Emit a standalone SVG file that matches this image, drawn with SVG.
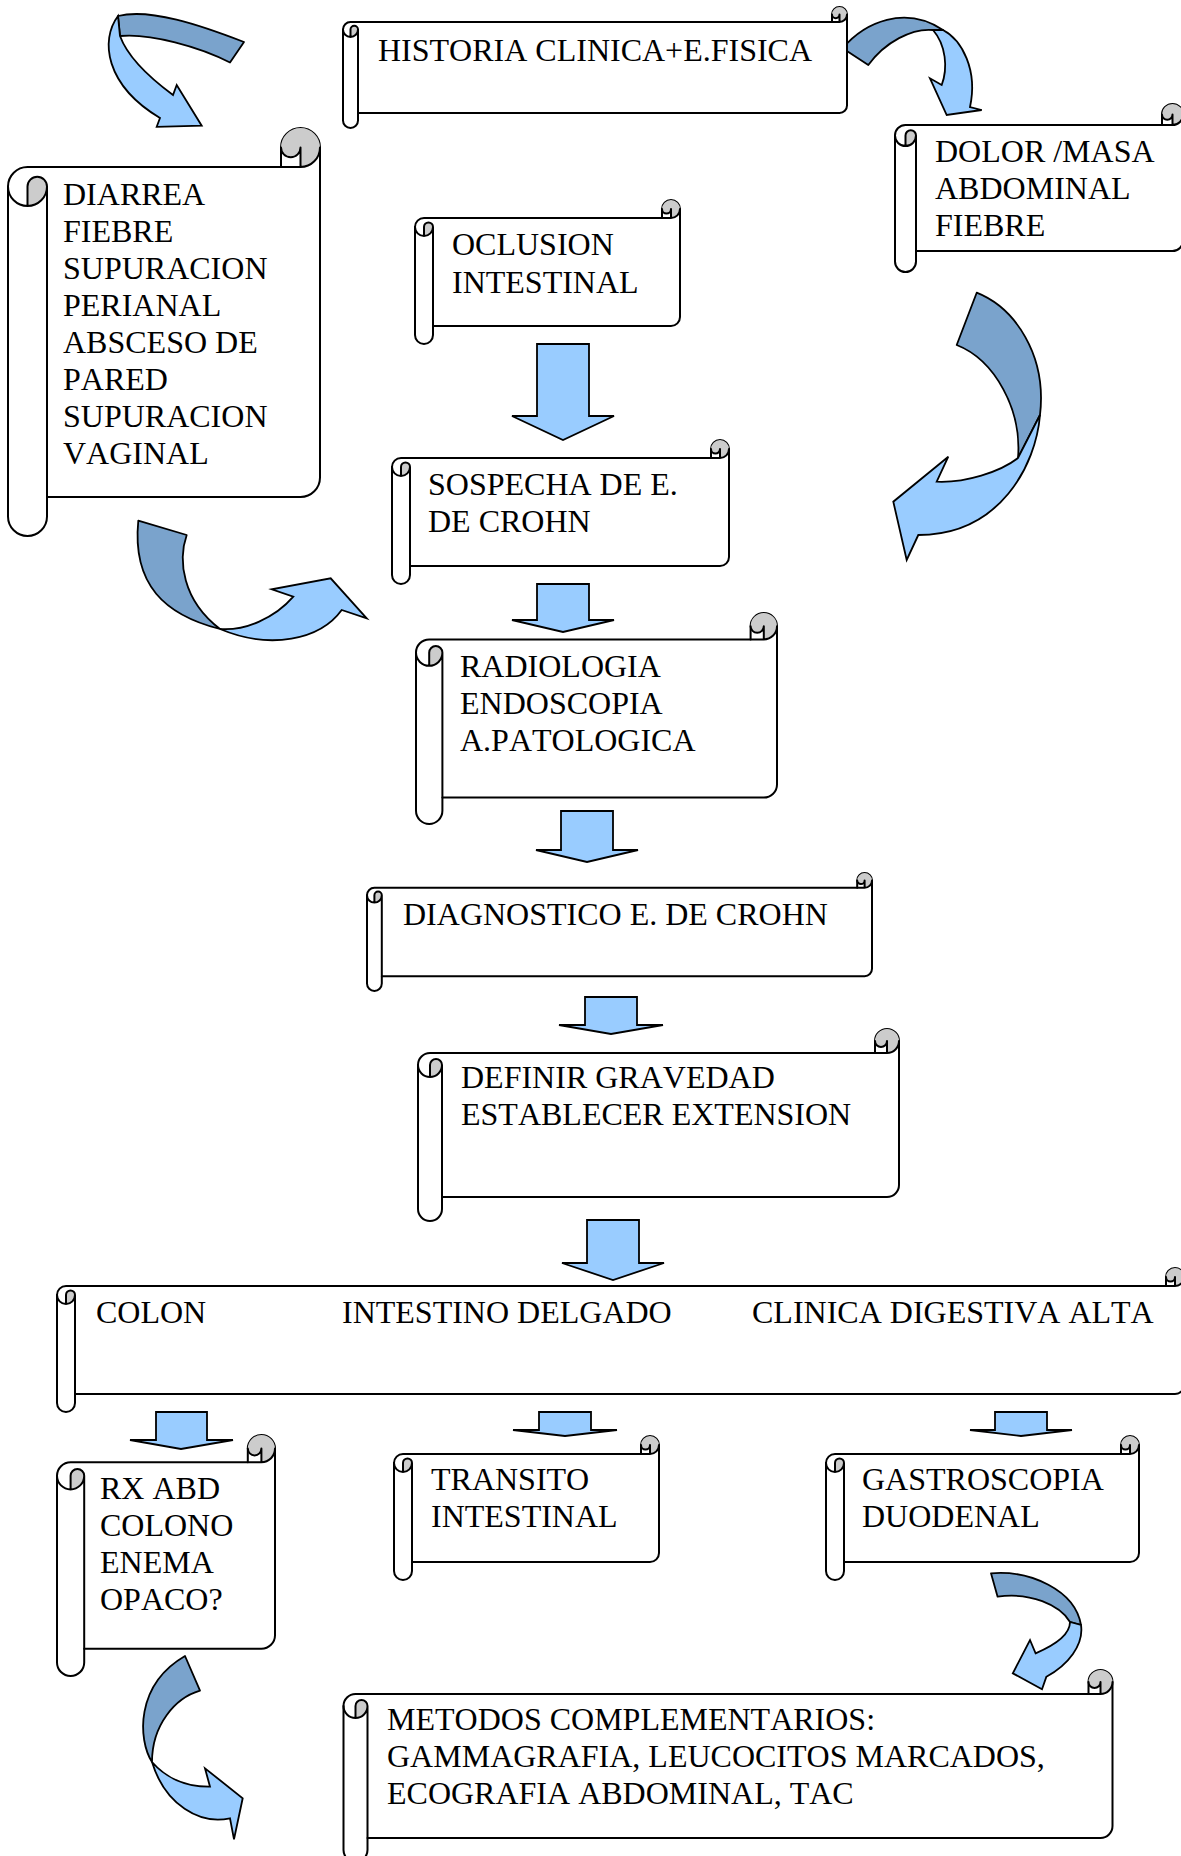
<svg xmlns="http://www.w3.org/2000/svg" width="1181" height="1856" viewBox="0 0 1181 1856">
  <style>
    .body { fill: #ffffff; stroke: #000000; stroke-width: 2; stroke-linejoin: round; }
    .curl { fill: #cccccc; stroke: none; }
    .det { fill: none; stroke: #000000; stroke-width: 2; stroke-linecap: round; stroke-linejoin: round; }
    .blk { fill: #99ccff; stroke: #000000; stroke-width: 1.8; stroke-linejoin: miter; }
    .back { fill: #7aa3cc; stroke: #000000; stroke-width: 1.8; stroke-linejoin: round; }
    .front { fill: #99ccff; stroke: #000000; stroke-width: 1.8; stroke-linejoin: miter; }
    text { font-family: "Liberation Serif", "Times New Roman", serif; font-size: 32px; fill: #000000; font-kerning: none; font-variant-ligatures: none; }
  </style>
  <defs>
    <!-- scroll 265 x 144 (roll 18) -->
    <g id="scroll-265x144">
      <path class="body" d="M0,27 A9 9 0 0 1 9,18 L247,18 L247,9 A9 9 0 0 1 265,9 L265,117 A9 9 0 0 1 256,126 L18,126 L18,135 A9 9 0 0 1 0,135 Z"/>
      <path class="curl" d="M9,36 A9 9 0 0 0 18,27 A4.5 4.5 0 0 0 9,27 Z M256,18 A9 9 0 1 0 247,9 A4.5 4.5 0 0 0 256,9 Z"/>
      <path class="det" d="M247,18 L256,18 A9 9 0 0 0 265,9 M256,18 L256,9 A4.5 4.5 0 0 1 247,9 M9,36 L9,27 A4.5 4.5 0 0 1 18,27 A9 9 0 0 1 0,27 M18,27 L18,126"/>
    </g>
  </defs>

  <!-- connectors: block arrows and curved ribbon arrows -->
  <g id="connectors">
    <polygon class="blk" points="537,344 589,344 589,416 614,416 563,440 512,416 537,416"/>
    <polygon class="blk" points="537,584 589,584 589,620 614,620 563,632 512,620 537,620"/>
    <polygon class="blk" points="561,811 613,811 613,850 638,850 587,862 536,850 561,850"/>
    <polygon class="blk" points="585,997 637,997 637,1025 663,1025 611,1034 559,1025 585,1025"/>
    <polygon class="blk" points="587,1220 639,1220 639,1263 664,1263 613,1280 562,1263 587,1263"/>
    <polygon class="blk" points="156,1412 207,1412 207,1440 233,1440 181,1449 130,1440 156,1440"/>
    <polygon class="blk" points="539,1412 591,1412 591,1430 617,1430 565,1436 513,1430 539,1430"/>
    <polygon class="blk" points="995,1412 1047,1412 1047,1430 1072,1430 1021,1436 970,1430 995,1430"/>

    <!-- curved: top left, into the symptom scroll -->
    <path class="back" d="M244,42 C200,25 150,8 118,16 L120,36 C150,33 200,47 230,62.5 Z"/>
    <path class="front" d="M118,16 C100,40 105,85 160,118 L156.7,126.8 L201.7,125.7 L176.7,85 L173,95 C150,78 128,58 120,36 Z"/>

    <!-- curved: history to pain/mass -->
    <path class="back" d="M842.7,48.3 C865,22 905,5 943,30 L933,30 C912,28 885,42 868.3,65 Z"/>
    <path class="front" d="M943,30 C962,40 978,70 970,107 L981.7,110 L946.7,115 L930,78.3 L941.7,85 C948,68 946,45 933,30 Z"/>

    <!-- curved: right side, down to suspicion -->
    <path class="back" d="M956.7,345 L976.7,292.7 C1015,308 1047,355 1040,415 L1018,458 C1022,410 995,360 956.7,345 Z"/>
    <path class="front" d="M1040,415 C1036,465 1000,535 918.3,535 L906.7,560 L893.3,501.7 L948.3,456.7 L936.7,481.7 C965,483 1000,472 1018,458 Z"/>

    <!-- curved: left side, up to suspicion -->
    <path class="back" d="M138.3,520.7 L186.7,535 C178,560 182,600 220,629 C165,615 132,585 138.3,520.7 Z"/>
    <path class="front" d="M220,629 C245,631 275,618 293.3,596.7 L271.7,589.3 L330.7,578.3 L366.7,618.3 L341.7,610 C320,640 270,650 220,629 Z"/>

    <!-- curved: gastroscopy to complementary methods -->
    <path class="back" d="M991,1573.3 C1030,1570 1075,1590 1081,1625 L1070,1622 C1060,1605 1030,1592 997.6,1596.7 Z"/>
    <path class="front" d="M1081,1625 C1084,1645 1068,1665 1046.4,1676.7 L1042,1689.3 L1012.8,1673.3 L1030,1640 L1035.6,1653.3 C1055,1645 1070,1635 1070,1622 Z"/>

    <!-- curved: below colon studies -->
    <path class="back" d="M185,1656 L200,1690.7 C175,1698 152,1725 152,1762 C138,1740 135,1685 185,1656 Z"/>
    <path class="front" d="M152,1762 C165,1777 185,1787 210,1786.7 L205,1768.3 L242.7,1798.3 L234,1839.3 L230,1818.3 C200,1825 165,1805 152,1762 Z"/>
  </g>

  <g id="n-historia">
    <g transform="translate(343,7)">
      <path class="body" d="M0,22.5 A7.5 7.5 0 0 1 7.5,15 L489,15 L489,7.5 A7.5 7.5 0 0 1 504,7.5 L504,98.5 A7.5 7.5 0 0 1 496.5,106 L15,106 L15,113.5 A7.5 7.5 0 0 1 0,113.5 Z"/>
      <path class="curl" d="M7.5,30 A7.5 7.5 0 0 0 15,22.5 A3.75 3.75 0 0 0 7.5,22.5 Z M496.5,15 A7.5 7.5 0 1 0 489,7.5 A3.75 3.75 0 0 0 496.5,7.5 Z"/>
      <path class="det" d="M489,15 L496.5,15 A7.5 7.5 0 0 0 504,7.5 M496.5,15 L496.5,7.5 A3.75 3.75 0 0 1 489,7.5 M7.5,30 L7.5,22.5 A3.75 3.75 0 0 1 15,22.5 A7.5 7.5 0 0 1 0,22.5 M15,22.5 L15,106"/>
    </g>
    <text x="378" y="61">HISTORIA CLINICA+E.FISICA</text>
  </g>

  <g id="n-sintomas">
    <g transform="translate(8,128)">
      <path class="body" d="M0,58.5 A19.5 19.5 0 0 1 19.5,39 L273,39 L273,19.5 A19.5 19.5 0 0 1 312,19.5 L312,349.5 A19.5 19.5 0 0 1 292.5,369 L39,369 L39,388.5 A19.5 19.5 0 0 1 0,388.5 Z"/>
      <path class="curl" d="M19.5,78 A19.5 19.5 0 0 0 39,58.5 A9.75 9.75 0 0 0 19.5,58.5 Z M292.5,39 A19.5 19.5 0 1 0 273,19.5 A9.75 9.75 0 0 0 292.5,19.5 Z"/>
      <path class="det" d="M273,39 L292.5,39 A19.5 19.5 0 0 0 312,19.5 M292.5,39 L292.5,19.5 A9.75 9.75 0 0 1 273,19.5 M19.5,78 L19.5,58.5 A9.75 9.75 0 0 1 39,58.5 A19.5 19.5 0 0 1 0,58.5 M39,58.5 L39,369"/>
    </g>
    <text x="63" y="205">DIARREA</text>
    <text x="63" y="242">FIEBRE</text>
    <text x="63" y="279">SUPURACION</text>
    <text x="63" y="316">PERIANAL</text>
    <text x="63" y="353">ABSCESO DE</text>
    <text x="63" y="390">PARED</text>
    <text x="63" y="427">SUPURACION</text>
    <text x="63" y="464">VAGINAL</text>
  </g>

  <g id="n-dolor">
    <g transform="translate(895,104)">
      <path class="body" d="M0,31.5 A10.5 10.5 0 0 1 10.5,21 L267,21 L267,10.5 A10.5 10.5 0 0 1 288,10.5 L288,136.5 A10.5 10.5 0 0 1 277.5,147 L21,147 L21,157.5 A10.5 10.5 0 0 1 0,157.5 Z"/>
      <path class="curl" d="M10.5,42 A10.5 10.5 0 0 0 21,31.5 A5.25 5.25 0 0 0 10.5,31.5 Z M277.5,21 A10.5 10.5 0 1 0 267,10.5 A5.25 5.25 0 0 0 277.5,10.5 Z"/>
      <path class="det" d="M267,21 L277.5,21 A10.5 10.5 0 0 0 288,10.5 M277.5,21 L277.5,10.5 A5.25 5.25 0 0 1 267,10.5 M10.5,42 L10.5,31.5 A5.25 5.25 0 0 1 21,31.5 A10.5 10.5 0 0 1 0,31.5 M21,31.5 L21,147"/>
    </g>
    <text x="935" y="162">DOLOR /MASA</text>
    <text x="935" y="199">ABDOMINAL</text>
    <text x="935" y="236">FIEBRE</text>
  </g>

  <g id="n-oclusion">
    <use href="#scroll-265x144" transform="translate(415,200)"/>
    <text x="452" y="255">OCLUSION</text>
    <text x="452" y="293">INTESTINAL</text>
  </g>

  <g id="n-sospecha">
    <g transform="translate(392,440)">
      <path class="body" d="M0,27 A9 9 0 0 1 9,18 L319,18 L319,9 A9 9 0 0 1 337,9 L337,117 A9 9 0 0 1 328,126 L18,126 L18,135 A9 9 0 0 1 0,135 Z"/>
      <path class="curl" d="M9,36 A9 9 0 0 0 18,27 A4.5 4.5 0 0 0 9,27 Z M328,18 A9 9 0 1 0 319,9 A4.5 4.5 0 0 0 328,9 Z"/>
      <path class="det" d="M319,18 L328,18 A9 9 0 0 0 337,9 M328,18 L328,9 A4.5 4.5 0 0 1 319,9 M9,36 L9,27 A4.5 4.5 0 0 1 18,27 A9 9 0 0 1 0,27 M18,27 L18,126"/>
    </g>
    <text x="428" y="495">SOSPECHA DE E.</text>
    <text x="428" y="532">DE CROHN</text>
  </g>

  <g id="n-radiologia">
    <g transform="translate(416,613)">
      <path class="body" d="M0,39.6 A13.2 13.2 0 0 1 13.2,26.4 L334.6,26.4 L334.6,13.2 A13.2 13.2 0 0 1 361,13.2 L361,171.4 A13.2 13.2 0 0 1 347.8,184.6 L26.4,184.6 L26.4,197.8 A13.2 13.2 0 0 1 0,197.8 Z"/>
      <path class="curl" d="M13.2,52.8 A13.2 13.2 0 0 0 26.4,39.6 A6.6 6.6 0 0 0 13.2,39.6 Z M347.8,26.4 A13.2 13.2 0 1 0 334.6,13.2 A6.6 6.6 0 0 0 347.8,13.2 Z"/>
      <path class="det" d="M334.6,26.4 L347.8,26.4 A13.2 13.2 0 0 0 361,13.2 M347.8,26.4 L347.8,13.2 A6.6 6.6 0 0 1 334.6,13.2 M13.2,52.8 L13.2,39.6 A6.6 6.6 0 0 1 26.4,39.6 A13.2 13.2 0 0 1 0,39.6 M26.4,39.6 L26.4,184.6"/>
    </g>
    <text x="460" y="677">RADIOLOGIA</text>
    <text x="460" y="714">ENDOSCOPIA</text>
    <text x="460" y="751">A.PATOLOGICA</text>
  </g>

  <g id="n-diagnostico">
    <g transform="translate(367,873)">
      <path class="body" d="M0,22.2 A7.4 7.4 0 0 1 7.4,14.8 L490.2,14.8 L490.2,7.4 A7.4 7.4 0 0 1 505,7.4 L505,95.8 A7.4 7.4 0 0 1 497.6,103.2 L14.8,103.2 L14.8,110.6 A7.4 7.4 0 0 1 0,110.6 Z"/>
      <path class="curl" d="M7.4,29.6 A7.4 7.4 0 0 0 14.8,22.2 A3.7 3.7 0 0 0 7.4,22.2 Z M497.6,14.8 A7.4 7.4 0 1 0 490.2,7.4 A3.7 3.7 0 0 0 497.6,7.4 Z"/>
      <path class="det" d="M490.2,14.8 L497.6,14.8 A7.4 7.4 0 0 0 505,7.4 M497.6,14.8 L497.6,7.4 A3.7 3.7 0 0 1 490.2,7.4 M7.4,29.6 L7.4,22.2 A3.7 3.7 0 0 1 14.8,22.2 A7.4 7.4 0 0 1 0,22.2 M14.8,22.2 L14.8,103.2"/>
    </g>
    <text x="403" y="925">DIAGNOSTICO E. DE CROHN</text>
  </g>

  <g id="n-definir">
    <g transform="translate(418,1029)">
      <path class="body" d="M0,36 A12 12 0 0 1 12,24 L457,24 L457,12 A12 12 0 0 1 481,12 L481,156 A12 12 0 0 1 469,168 L24,168 L24,180 A12 12 0 0 1 0,180 Z"/>
      <path class="curl" d="M12,48 A12 12 0 0 0 24,36 A6 6 0 0 0 12,36 Z M469,24 A12 12 0 1 0 457,12 A6 6 0 0 0 469,12 Z"/>
      <path class="det" d="M457,24 L469,24 A12 12 0 0 0 481,12 M469,24 L469,12 A6 6 0 0 1 457,12 M12,48 L12,36 A6 6 0 0 1 24,36 A12 12 0 0 1 0,36 M24,36 L24,168"/>
    </g>
    <text x="461" y="1088">DEFINIR GRAVEDAD</text>
    <text x="461" y="1125">ESTABLECER EXTENSION</text>
  </g>

  <g id="n-localizacion">
    <g transform="translate(57,1268)">
      <path class="body" d="M0,27 A9 9 0 0 1 9,18 L1109,18 L1109,9 A9 9 0 0 1 1127,9 L1127,117 A9 9 0 0 1 1118,126 L18,126 L18,135 A9 9 0 0 1 0,135 Z"/>
      <path class="curl" d="M9,36 A9 9 0 0 0 18,27 A4.5 4.5 0 0 0 9,27 Z M1118,18 A9 9 0 1 0 1109,9 A4.5 4.5 0 0 0 1118,9 Z"/>
      <path class="det" d="M1109,18 L1118,18 A9 9 0 0 0 1127,9 M1118,18 L1118,9 A4.5 4.5 0 0 1 1109,9 M9,36 L9,27 A4.5 4.5 0 0 1 18,27 A9 9 0 0 1 0,27 M18,27 L18,126"/>
    </g>
    <text x="96" y="1323">COLON</text>
    <text x="342" y="1323">INTESTINO DELGADO</text>
    <text x="752" y="1323">CLINICA DIGESTIVA ALTA</text>
  </g>

  <g id="n-rx">
    <g transform="translate(57,1435)">
      <path class="body" d="M0,40.8 A13.6 13.6 0 0 1 13.6,27.2 L190.8,27.2 L190.8,13.6 A13.6 13.6 0 0 1 218,13.6 L218,200.2 A13.6 13.6 0 0 1 204.4,213.8 L27.2,213.8 L27.2,227.4 A13.6 13.6 0 0 1 0,227.4 Z"/>
      <path class="curl" d="M13.6,54.4 A13.6 13.6 0 0 0 27.2,40.8 A6.8 6.8 0 0 0 13.6,40.8 Z M204.4,27.2 A13.6 13.6 0 1 0 190.8,13.6 A6.8 6.8 0 0 0 204.4,13.6 Z"/>
      <path class="det" d="M190.8,27.2 L204.4,27.2 A13.6 13.6 0 0 0 218,13.6 M204.4,27.2 L204.4,13.6 A6.8 6.8 0 0 1 190.8,13.6 M13.6,54.4 L13.6,40.8 A6.8 6.8 0 0 1 27.2,40.8 A13.6 13.6 0 0 1 0,40.8 M27.2,40.8 L27.2,213.8"/>
    </g>
    <text x="100" y="1499">RX ABD</text>
    <text x="100" y="1536">COLONO</text>
    <text x="100" y="1573">ENEMA</text>
    <text x="100" y="1610">OPACO?</text>
  </g>

  <g id="n-transito">
    <use href="#scroll-265x144" transform="translate(394,1436)"/>
    <text x="431" y="1490">TRANSITO</text>
    <text x="431" y="1527">INTESTINAL</text>
  </g>

  <g id="n-gastroscopia">
    <g transform="translate(826,1436)">
      <path class="body" d="M0,27 A9 9 0 0 1 9,18 L295,18 L295,9 A9 9 0 0 1 313,9 L313,117 A9 9 0 0 1 304,126 L18,126 L18,135 A9 9 0 0 1 0,135 Z"/>
      <path class="curl" d="M9,36 A9 9 0 0 0 18,27 A4.5 4.5 0 0 0 9,27 Z M304,18 A9 9 0 1 0 295,9 A4.5 4.5 0 0 0 304,9 Z"/>
      <path class="det" d="M295,18 L304,18 A9 9 0 0 0 313,9 M304,18 L304,9 A4.5 4.5 0 0 1 295,9 M9,36 L9,27 A4.5 4.5 0 0 1 18,27 A9 9 0 0 1 0,27 M18,27 L18,126"/>
    </g>
    <text x="862" y="1490">GASTROSCOPIA</text>
    <text x="862" y="1527">DUODENAL</text>
  </g>

  <g id="n-metodos">
    <g transform="translate(343.5,1670)">
      <path class="body" d="M0,36 A12 12 0 0 1 12,24 L745,24 L745,12 A12 12 0 0 1 769,12 L769,156 A12 12 0 0 1 757,168 L24,168 L24,180 A12 12 0 0 1 0,180 Z"/>
      <path class="curl" d="M12,48 A12 12 0 0 0 24,36 A6 6 0 0 0 12,36 Z M757,24 A12 12 0 1 0 745,12 A6 6 0 0 0 757,12 Z"/>
      <path class="det" d="M745,24 L757,24 A12 12 0 0 0 769,12 M757,24 L757,12 A6 6 0 0 1 745,12 M12,48 L12,36 A6 6 0 0 1 24,36 A12 12 0 0 1 0,36 M24,36 L24,168"/>
    </g>
    <text x="387" y="1730">METODOS COMPLEMENTARIOS:</text>
    <text x="387" y="1767">GAMMAGRAFIA, LEUCOCITOS MARCADOS,</text>
    <text x="387" y="1804">ECOGRAFIA ABDOMINAL, TAC</text>
  </g>
</svg>
